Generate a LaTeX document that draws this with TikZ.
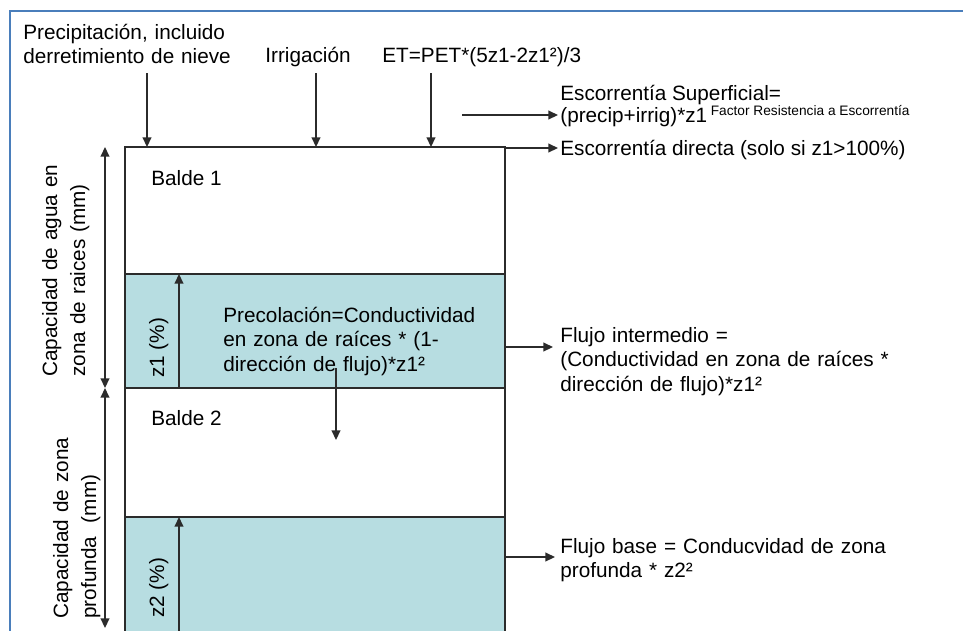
\documentclass[tikz,border=0pt]{standalone}
\usepackage{fontspec}
\setmainfont{Liberation Sans}
\usetikzlibrary{positioning,calc,arrows.meta}
\definecolor{agua}{HTML}{B7DDE1}
\definecolor{marco}{HTML}{4A7EBB}
\definecolor{linea}{HTML}{2B2B2B}
\tikzset{
  texto/.style={inner sep=0pt, anchor=base west, align=left, font=\fontsize{11.8}{14.2}\selectfont},
  girado/.style={texto, rotate=90, font=\fontsize{11.8}{16}\selectfont},
  borde/.style={draw=linea, line width=0.85pt},
  flecha/.style={borde, -{Triangle[length=5.5pt,width=5pt]}},
  doble/.style={borde, {Triangle[length=5.5pt,width=5pt]}-{Triangle[length=5.5pt,width=5pt]}},
}
\begin{document}
\begin{tikzpicture}[x=0.02cm, y=-0.02cm]
\useasboundingbox (0,0) rectangle (963,630);
\clip (0,0) rectangle (963,630);
\draw[marco, line width=1.2pt] (10,640) -- (10,11) -- (970,11);

% baldes
\fill[agua] (125,274) rectangle (505,388);
\fill[agua] (125,517) rectangle (505,640);
\draw[borde] (125,640) -- (125,147) -- (505,147) -- (505,640);
\draw[borde] (125,274) -- (505,274) (125,388) -- (505,388) (125,517) -- (505,517);

% textos
\node[texto, text width=5cm] (precip) at (23,39) {Precipitación, incluido\\derretimiento de nieve};
\node[texto] (irrig) at (265,62) {Irrigación};
\node[texto] (et) at (382,62) {ET=PET*(5z1-2z1²)/3};
\node[texto] (esup) at (560,100) {Escorrentía Superficial=};
\node[texto] (esup2) at (560,122) {(precip+irrig)*z1\kern2pt\raisebox{3.6pt}{\fontsize{7.8}{9}\selectfont Factor Resistencia a Escorrentía}};
\node[texto] (edir) at (560,155) {Escorrentía directa (solo si z1>100\%)};
\node[texto] (balde1) at (151,185) {Balde 1};
\node[texto] (balde2) at (151,425) {Balde 2};
\node[texto, text width=6cm] (perc) at (223,322) {Precolación=Conductividad\\en zona de raíces * (1-\\dirección de flujo)*z1²};
\node[texto, text width=8cm] (fint) at (560,342) {Flujo intermedio =\\(Conductividad en zona de raíces *\\dirección de flujo)*z1²};
\node[texto, text width=8cm] (fbase) at (560,553) {Flujo base = Conducvidad de zona\\profunda * z2²};
\node[girado, text width=5cm] (cap1) at (57,377) {Capacidad de agua en\\zona de raices (mm)};
\node[girado, text width=5cm] (cap2) at (68,619) {Capacidad de zona\\profunda~ (mm)};
\node[girado] (z1) at (164,378) {z1 (\%)};
\node[girado] (z2) at (164,618) {z2 (\%)};

% puntos de las flechas
\coordinate (p0) at (147,73);  \coordinate (p1) at (147,147);
\coordinate (i0) at (316,73);  \coordinate (i1) at (316,147);
\coordinate (e0) at (431,73);  \coordinate (e1) at (431,147);
\coordinate (c0) at (105,147); \coordinate (c1) at (105,388); \coordinate (c2) at (105,628);
\coordinate (z1a) at (179,388); \coordinate (z1b) at (179,274);
\coordinate (z2a) at (179,640); \coordinate (z2b) at (179,517);
\coordinate (pc0) at (336,368); \coordinate (pc1) at (336,440);
\coordinate (es0) at (462,115); \coordinate (es1) at (558,115);
\coordinate (ed0) at (505,148); \coordinate (ed1) at (558,148);
\coordinate (fi0) at (505,347); \coordinate (fi1) at (553,347);
\coordinate (fb0) at (505,557); \coordinate (fb1) at (555,557);

\draw[flecha] (p0) -- (p1);
\draw[flecha] (i0) -- (i1);
\draw[flecha] (e0) -- (e1);
\draw[doble] (c0) -- (c1);
\draw[doble] (c1) -- (c2);
\draw[flecha] (z1a) -- (z1b);
\draw[flecha] (z2a) -- (z2b);
\draw[flecha] (pc0) -- (pc1);
\draw[flecha] (es0) -- (es1);
\draw[flecha] (ed0) -- (ed1);
\draw[flecha] (fi0) -- (fi1);
\draw[flecha] (fb0) -- (fb1);
\end{tikzpicture}
\end{document}
